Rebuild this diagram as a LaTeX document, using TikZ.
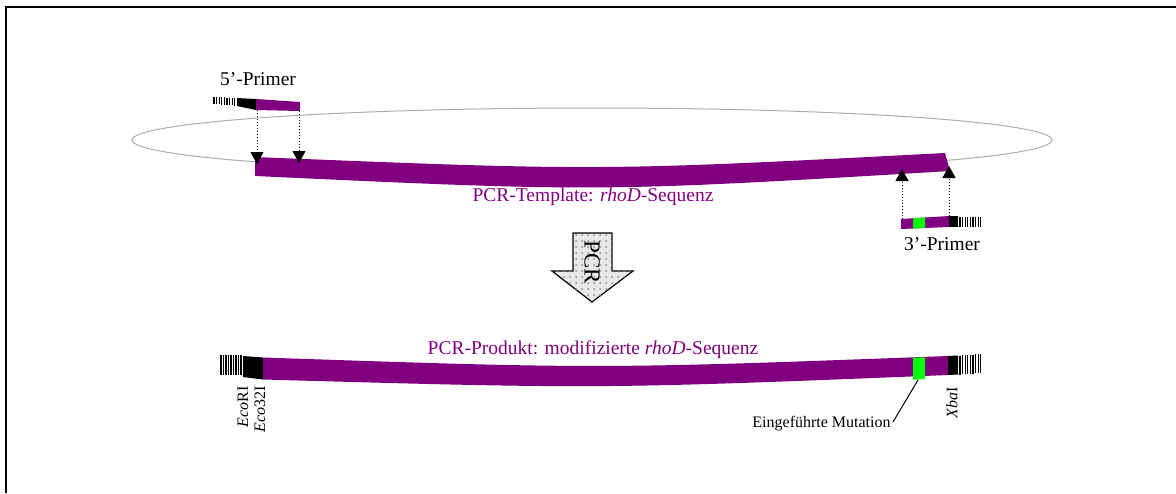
\documentclass[tikz,border=0pt]{standalone}
\usepackage{fontspec}
\setmainfont{Liberation Serif}
\usetikzlibrary{arrows.meta,patterns}
\definecolor{dna}{HTML}{800080}
\definecolor{mut}{HTML}{00FF00}
\begin{document}
\begin{tikzpicture}[x=0.5pt,y=-0.5pt,
  lab/.style={inner sep=0pt,font=\fontsize{9.75}{11}\selectfont},
  small/.style={inner sep=0pt,font=\fontsize{8}{9}\selectfont},
  band/.style={fill=dna,draw=none},
  tag/.style={fill=black,draw=none},
  mutbox/.style={fill=mut,draw=none},
  barline/.style={line width=0.55pt,black},
  probe/.style={densely dotted,line width=0.5pt,
    -{Triangle[width=6.5pt,length=6pt]}},
  frame/.style={line width=0.9pt,black}]
\useasboundingbox (0,0) rectangle (1176,493);

% border
\draw[frame] (6,493) -- (6,7) -- (1176,7);

% circular template
\draw[gray!65,line width=0.5pt] (592,140) ellipse [x radius=460, y radius=32];

% template strand
\fill[band] (255,157) .. controls (600,171) .. (945,153)
  -- (950,171) .. controls (600,192) .. (255,176) -- cycle;
\node[lab,text=dna] (tpl) at (593,197) {PCR-Template: \textit{rhoD}-Sequenz};

% 5' primer
\foreach \i in {0,...,8}
  \draw[barline] ({214+\i*2.6},{96.5+\i*0.2}) -- ++(0,7.5);
\fill[tag] (237,98) -- (256,99) -- (256,110) -- (237,106) -- cycle;
\fill[band] (256,99) -- (300,102) -- (300,111) -- (256,110) -- cycle;
\node[lab] (p5lbl) at (258,79) {5’-Primer};

% 3' primer
\fill[band] (901,219) -- (949,216) -- (949,227) -- (901,229) -- cycle;
\fill[mutbox] (913,218.3) -- (925,217.5) -- (925,228) -- (913,228.6) -- cycle;
\fill[tag] (949,216) -- (958,216) -- (958,227) -- (949,227) -- cycle;
\foreach \i in {0,...,8}
  \draw[barline] ({960+\i*2.6},216.5) -- ++(0,10);
\node[lab] (p3lbl) at (942,244) {3’-Primer};

% primer binding sites
\coordinate (a1) at (257,110);  \coordinate (b1) at (257,164);
\coordinate (a2) at (299,111);  \coordinate (b2) at (299,163);
\coordinate (a3) at (902,219);  \coordinate (b3) at (902,169);
\coordinate (a4) at (949,216);  \coordinate (b4) at (949,166);
\draw[probe] (a1) -- (b1);
\draw[probe] (a2) -- (b2);
\draw[probe] (a3) -- (b3);
\draw[probe] (a4) -- (b4);

% PCR block arrow
\path[draw=black,line width=0.6pt,fill=gray!18]
  (573,233) -- (612,233) -- (612,271) -- (633,271) -- (592,302)
  -- (552,271) -- (573,271) -- cycle;
\path[pattern=dots,pattern color=gray!90]
  (573,233) -- (612,233) -- (612,271) -- (633,271) -- (592,302)
  -- (552,271) -- (573,271) -- cycle;
\node[inner sep=0pt,rotate=-90,font=\fontsize{11.5}{12}\selectfont] (pcr) at (592,262) {PCR};

% PCR product
\foreach \i in {0,...,8}
  \draw[barline] ({221+\i*2.5},355) -- ++(0,19.5);
\fill[tag] (243,356) -- (263,357.5) -- (263,379.5) -- (243,377) -- cycle;
\fill[band] (263,357.5) .. controls (600,369) .. (948,356)
  -- (948,375) .. controls (600,389) .. (263,379.5) -- cycle;
\fill[mutbox] (913,357.8) -- (925,357.3) -- (925,379) -- (913,379.8) -- cycle;
\fill[tag] (948,356) -- (958,355.5) -- (958,374.5) -- (948,375) -- cycle;
\foreach \i in {0,...,8}
  \draw[barline] ({960+\i*2.6},{355.5-\i*0.2}) -- ++(0,19);
\node[lab,text=dna] (prod) at (593,350) {PCR-Produkt: modifizierte \textit{rhoD}-Sequenz};

% restriction sites
\node[small,rotate=90,anchor=east] (eco) at (243,386) {\textit{Eco}RI};
\node[small,rotate=90,anchor=east] (eco32) at (260,386) {\textit{Eco}32I};
\node[small,rotate=90,anchor=east] (xba) at (952,387) {\textit{Xba}I};

% mutation
\coordinate (mut) at (918,380);
\node[small,anchor=east] (mutlbl) at (891,424) {Eingeführte Mutation};
\draw[line width=0.5pt] ([xshift=1pt,yshift=1pt]mutlbl.east) -- (mut);
\end{tikzpicture}
\end{document}
